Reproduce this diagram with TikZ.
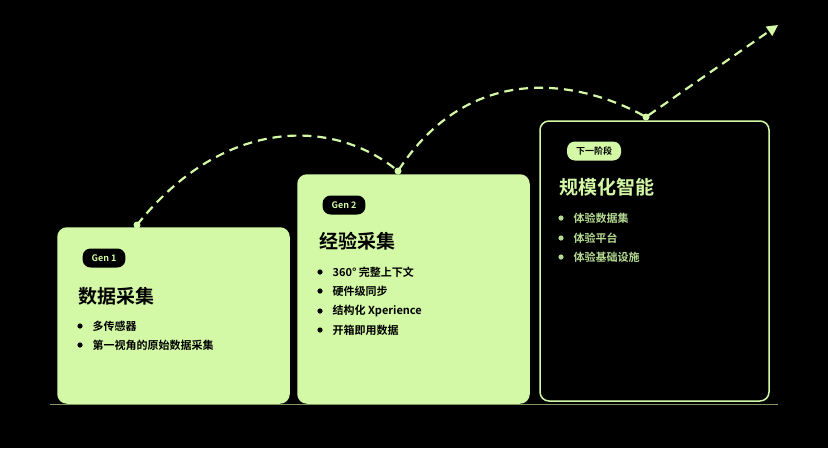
\documentclass[tikz,border=0pt]{standalone}
\usepackage{fontspec}
\setmainfont{Noto Sans CJK SC}[BoldFont={Noto Sans CJK SC Bold}]
\usetikzlibrary{arrows.meta,positioning}
\definecolor{lime}{HTML}{D4F9A6}
\definecolor{limedim}{HTML}{B5DB92}
\tikzset{
  card/.style={rounded corners=9pt,line width=1.5pt},
  pill/.style={rounded corners=8pt,minimum height=19pt,inner xsep=9pt,font=\bfseries\fontsize{9}{9}\selectfont},
  head/.style={anchor=west,font=\bfseries\fontsize{19}{19}\selectfont},
  item/.style={anchor=west,font=\bfseries\fontsize{11}{11}\selectfont},
  dot/.style={circle,fill=lime,inner sep=0pt,minimum size=7pt}
}
\newcommand\bul[4]{% name, position, colour, text
  \fill[#3](#2) circle(2.6pt);
  \node[item,text=#3](#1)at($(#2)+(9,0)$){#4};}
\usetikzlibrary{calc}
\begin{document}
\begin{tikzpicture}[x=1pt,y=-1pt]
\fill[black](0,0)rectangle(828,448);
\useasboundingbox(0,0)rectangle(828,448);
% cards
\draw[card,fill=lime,draw=lime](58,228)rectangle(289,403);
\draw[card,fill=lime,draw=lime](298,175)rectangle(529,403);
\draw[card,fill=black,draw=lime](540,121)rectangle(769,401);
\draw[limedim!70!black,line width=1pt](50,404)--(778,404);
% growth path
\coordinate(p1)at(137,225);\coordinate(p2)at(398,171);
\coordinate(p3)at(646,117);\coordinate(p4)at(778,25);
\draw[lime,line width=2.2pt,dash pattern=on 9pt off 6pt,-{Triangle[length=11pt,width=11pt]}]
 (p1)..controls(220,120)and(330,115)..(p2)
 ..controls(470,60)and(580,80)..(p3)--(p4);
\foreach \p in {p1,p2,p3}\node[dot]at(\p){};
% Gen 1
\node[pill,fill=black,text=lime](g1)at(104,258){Gen 1};
\node[head,text=black](t1)at(75,296){数据采集};
\bul{a1}{80,326}{black}{多传感器}
\bul{a2}{80,345}{black}{第一视角的原始数据采集}
% Gen 2
\node[pill,fill=black,text=lime](g2)at(344,205){Gen 2};
\node[head,text=black](t2)at(316,241){经验采集};
\bul{b1}{320,272}{black}{360° 完整上下文}
\bul{b2}{320,291}{black}{硬件级同步}
\bul{b3}{320,311}{black}{结构化 Xperience}
\bul{b4}{320,330}{black}{开箱即用数据}
% next stage
\node[pill,fill=lime,text=black](g3)at(594,151){下一阶段};
\node[head,text=lime](t3)at(556,187){规模化智能};
\bul{c1}{561,218}{limedim}{体验数据集}
\bul{c2}{561,238}{limedim}{体验平台}
\bul{c3}{561,257}{limedim}{体验基础设施}
\end{tikzpicture}
\end{document}
